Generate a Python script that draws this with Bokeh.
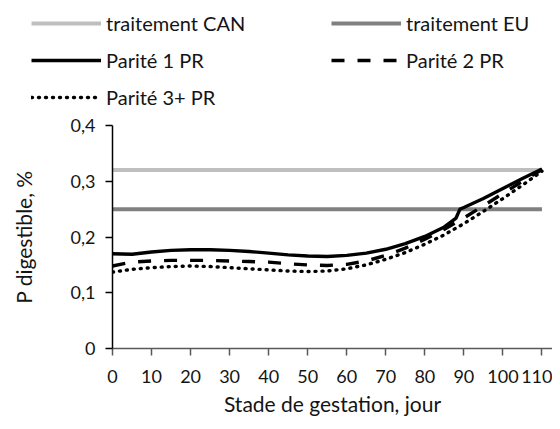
from bokeh.plotting import figure
from bokeh.layouts import column
from bokeh.models import Range1d, FixedTicker, Legend, LegendItem, CustomJSTickFormatter
from bokeh.embed import file_html
from bokeh.resources import INLINE

# ---- data ----
days = [0, 5, 10, 15, 20, 25, 30, 35, 40, 45, 50, 55, 60, 65, 70, 75, 80, 85, 88, 89, 90, 95, 100, 105, 110]
parite1 = [0.170, 0.169, 0.173, 0.176, 0.177, 0.177, 0.176, 0.174, 0.171, 0.168, 0.166, 0.165, 0.167,
           0.171, 0.178, 0.188, 0.201, 0.218, 0.234, 0.250, 0.253, 0.269, 0.287, 0.305, 0.322]
parite2 = [0.148, 0.155, 0.157, 0.158, 0.158, 0.158, 0.157, 0.156, 0.155, 0.152, 0.150, 0.149, 0.151,
           0.157, 0.167, 0.180, 0.196, 0.214, 0.226, 0.230, 0.234, 0.256, 0.278, 0.300, 0.321]
parite3 = [0.137, 0.142, 0.145, 0.147, 0.148, 0.147, 0.145, 0.143, 0.141, 0.139, 0.138, 0.139, 0.143,
           0.150, 0.160, 0.172, 0.187, 0.204, 0.216, 0.220, 0.224, 0.246, 0.269, 0.293, 0.318]
can_days = [0, 110]
can_value = [0.32, 0.32]
eu_value = [0.25, 0.25]
x_ticks = [0, 10, 20, 30, 40, 50, 60, 70, 80, 90, 100, 110]
y_ticks = [0, 0.1, 0.2, 0.3, 0.4]
labels = ["traitement CAN", "traitement EU", "Parité 1 PR", "Parité 2 PR", "Parité 3+ PR"]

FONT = "Lato"
TXT = "#141414"
TICK_FS = "18px"
TITLE_FS = "21px"
LEG_FS = "20px"

styles = [dict(line_color="#bfbfbf", line_width=4),
          dict(line_color="#808080", line_width=4),
          dict(line_color="black", line_width=3.4),
          dict(line_color="black", line_width=3.4, line_dash="13 13"),
          dict(line_color="black", line_width=3.4, line_dash="1 6", line_cap="round")]
series = [(can_days, can_value), (can_days, eu_value), (days, parite1), (days, parite2), (days, parite3)]

# ---- main chart ----
p = figure(width=552, height=309, output_backend="svg", toolbar_location=None,
           x_range=Range1d(0, 112.7), y_range=Range1d(0, 0.4),
           min_border_left=112, min_border_right=0, min_border_top=13, min_border_bottom=73)
p.outline_line_color = None
p.xgrid.grid_line_color = None
p.ygrid.grid_line_color = None
p.frame_align = False

for (xs, ys), s in zip(series, styles):
    p.line(xs, ys, **s)

fmt = CustomJSTickFormatter(code="return tick == 0 ? '0' : tick.toFixed(1).replace('.', ',');")

p.xaxis.ticker = FixedTicker(ticks=x_ticks)
p.yaxis.ticker = FixedTicker(ticks=y_ticks)
p.yaxis.formatter = fmt
for ax in (p.xaxis, p.yaxis):
    ax.major_label_text_font = FONT
    ax.major_label_text_font_size = TICK_FS
    ax.major_label_text_color = TXT
    ax.axis_label_text_font = FONT
    ax.axis_label_text_font_size = TITLE_FS
    ax.axis_label_text_font_style = "normal"
    ax.axis_label_text_color = TXT
    ax.minor_tick_line_color = None
    ax.major_tick_in = 0
    ax.major_tick_out = 7
    ax.axis_line_width = 1.5
    ax.major_tick_line_width = 1.5
p.xaxis.axis_line_color = "#595959"
p.xaxis.major_tick_line_color = "#595959"
p.yaxis.axis_line_color = "black"
p.yaxis.major_tick_line_color = "black"
p.xaxis.major_label_standoff = 14
p.yaxis.major_label_standoff = 10
p.xaxis.axis_label = "Stade de gestation, jour"
p.yaxis.axis_label = "P digestible, %"
p.xaxis.axis_label_standoff = 5
p.yaxis.axis_label_standoff = 32

# ---- legend strip (its lines lie outside its visible range; only the legend shows) ----
lf = figure(width=552, height=112, output_backend="svg", toolbar_location=None,
            x_range=Range1d(1000, 1001), y_range=Range1d(1000, 1001),
            x_axis_type=None, y_axis_type=None, min_border=0)
lf.outline_line_color = None
lf.xgrid.grid_line_color = None
lf.ygrid.grid_line_color = None
lf.frame_align = False
samples = [lf.line(xs, ys, **s) for (xs, ys), s in zip(series, styles)]


def make_legend(idx, x, y):
    lg = Legend(items=[LegendItem(label=labels[i], renderers=[samples[i]]) for i in idx],
                location=(x, y), orientation="vertical",
                glyph_width=70, glyph_height=24, label_height=24, spacing=13,
                label_standoff=5, padding=0, margin=0,
                border_line_color=None, background_fill_alpha=0,
                label_text_font=FONT, label_text_font_size=LEG_FS, label_text_color=TXT)
    lf.add_layout(lg, "center")


make_legend([0, 2, 4], 31, 3)
make_legend([1, 3], 331, 40)

open("out.html", "w").write(file_html(column(lf, p, spacing=0), INLINE))
